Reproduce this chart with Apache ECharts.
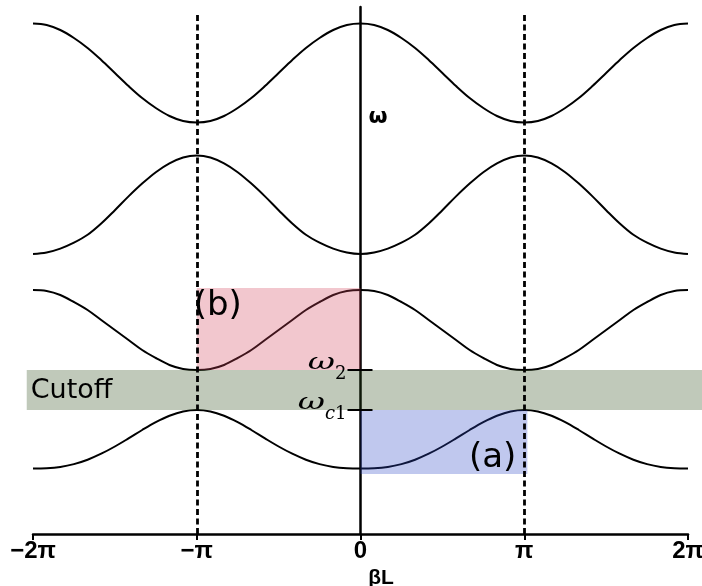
<!DOCTYPE html>
<html>
<head>
<meta charset="utf-8">
<script src="https://cdn.jsdelivr.net/npm/echarts@6/dist/echarts.min.js"></script>
<style>
  html, body { margin: 0; padding: 0; background: #fff; }
  #chart { width: 702px; height: 586px; }
</style>
</head>
<body>
<div id="chart"></div>
<script>
// Sample grid along βL, in steps of π/12 from −2π to 2π
const piTwelfths = [-24, -23, -22, -21, -20, -19, -18, -17, -16, -15, -14, -13, -12,
                    -11, -10, -9, -8, -7, -6, -5, -4, -3, -2, -1, 0,
                    1, 2, 3, 4, 5, 6, 7, 8, 9, 10, 11, 12,
                    13, 14, 15, 16, 17, 18, 19, 20, 21, 22, 23, 24];

// Dispersion bands ω(βL), lowest first
const band1 = [0.655, 0.658, 0.671, 0.699, 0.743, 0.803, 0.875, 0.956, 1.04, 1.118, 1.182, 1.225, 1.24,
               1.225, 1.182, 1.118, 1.04, 0.956, 0.875, 0.803, 0.743, 0.699, 0.671, 0.658, 0.655,
               0.658, 0.671, 0.699, 0.743, 0.803, 0.875, 0.956, 1.04, 1.118, 1.182, 1.225, 1.24,
               1.225, 1.182, 1.118, 1.04, 0.956, 0.875, 0.803, 0.743, 0.699, 0.671, 0.658, 0.655];
const band2 = [2.44, 2.43, 2.39, 2.32, 2.24, 2.14, 2.04, 1.94, 1.84, 1.76, 1.69, 1.65, 1.64,
               1.65, 1.69, 1.76, 1.84, 1.94, 2.04, 2.14, 2.24, 2.32, 2.39, 2.43, 2.44,
               2.43, 2.39, 2.32, 2.24, 2.14, 2.04, 1.94, 1.84, 1.76, 1.69, 1.65, 1.64,
               1.65, 1.69, 1.76, 1.84, 1.94, 2.04, 2.14, 2.24, 2.32, 2.39, 2.43, 2.44];
const band3 = [2.80, 2.815, 2.854, 2.913, 2.992, 3.105, 3.238, 3.376, 3.504, 3.618, 3.706, 3.765, 3.785,
               3.765, 3.706, 3.618, 3.504, 3.376, 3.238, 3.105, 2.992, 2.913, 2.854, 2.815, 2.80,
               2.815, 2.854, 2.913, 2.992, 3.105, 3.238, 3.376, 3.504, 3.618, 3.706, 3.765, 3.785,
               3.765, 3.706, 3.618, 3.504, 3.376, 3.238, 3.105, 2.992, 2.913, 2.854, 2.815, 2.80];
const band4 = [5.105, 5.09, 5.04, 4.96, 4.86, 4.74, 4.61, 4.48, 4.36, 4.26, 4.18, 4.13, 4.115,
               4.13, 4.18, 4.26, 4.36, 4.48, 4.61, 4.74, 4.86, 4.96, 5.04, 5.09, 5.105,
               5.09, 5.04, 4.96, 4.86, 4.74, 4.61, 4.48, 4.36, 4.26, 4.18, 4.13, 4.115,
               4.13, 4.18, 4.26, 4.36, 4.48, 4.61, 4.74, 4.86, 4.96, 5.04, 5.09, 5.105];

// Marked frequencies on the ω axis: value, subscript (italic part, upright part)
const omegaC1 = 1.24;
const omega2 = 1.64;
const omegaMarks = [omegaC1, omega2];
const omegaSubItalic = ['c', ''];
const omegaSubUpright = ['1', '2'];

// Shaded regions: [βL from, βL to, ω from, ω to, label]
const PI = Math.PI;
const regions = [
  [-2 * PI - 0.12, 2 * PI + 0.27, omegaC1, omega2, 'Cutoff'],
  [-PI, 0, omega2, 2.46, '(b)'],
  [0, PI + 0.06, 0.60, omegaC1, '(a)']
];
const regionColors = ['rgba(48,75,25,0.3)', 'rgba(212,68,92,0.3)', 'rgba(45,72,198,0.3)'];

// Brillouin zone boundaries (dashed)
const zoneBoundaries = [-PI, PI];
const boundaryTop = 5.19;

// Axis ticks
const xTickValues = [-2 * PI, -PI, 0, PI, 2 * PI];
const xTickLabels = ['\u22122\u03c0', '\u2212\u03c0', '0', '\u03c0', '2\u03c0'];

const betaL = piTwelfths.map(k => k * PI / 12);
const toPairs = arr => betaL.map((x, i) => [x, arr[i]]);

const chart = echarts.init(document.getElementById('chart'), null, { renderer: 'canvas' });

// Text measuring for the ω tick labels
const measureCtx = document.createElement('canvas').getContext('2d');
function textWidth(text, font) {
  measureCtx.font = font;
  return measureCtx.measureText(text).width;
}

const bandSeries = [band1, band2, band3, band4].map((b, i) => ({
  name: 'band' + (i + 1),
  type: 'line',
  data: toPairs(b),
  smooth: 0.35,
  showSymbol: false,
  lineStyle: { color: '#000', width: 2 },
  z: 2
}));

const boundarySeries = {
  name: 'boundaries',
  type: 'line',
  data: [],
  silent: true,
  z: 3,
  markLine: {
    silent: true,
    symbol: 'none',
    animation: false,
    label: { show: false },
    lineStyle: { type: [6, 3.5], width: 2.8, color: '#000' },
    data: zoneBoundaries.map(x => [{ coord: [x, 0] }, { coord: [x, boundaryTop] }])
  }
};

const labelFont = 'DejaVu Sans';

const regionSeries = {
  name: 'regions',
  type: 'custom',
  clip: false,
  silent: true,
  z: 4,
  data: regions.map((r, i) => [r[0], r[1], r[2], r[3], i]),
  renderItem: (params, api) => {
    const i = api.value(4);
    const p0 = api.coord([api.value(0), api.value(3)]);
    const p1 = api.coord([api.value(1), api.value(2)]);
    const x = p0[0], y = p0[1], w = p1[0] - p0[0], h = p1[1] - p0[1];
    const text = regions[i][4];
    let t;
    if (i === 0) {
      t = { x: x + 4, y: y + h / 2 + 1, align: 'left', va: 'middle', size: 27 };
    } else if (i === 1) {
      t = { x: x - 3, y: y + 1, align: 'left', va: 'top', size: 34 };
    } else {
      t = { x: x + w - 11, y: y + h + 1, align: 'right', va: 'bottom', size: 34 };
    }
    return {
      type: 'group',
      children: [
        { type: 'rect', shape: { x, y, width: w, height: h }, style: { fill: regionColors[i] } },
        {
          type: 'text',
          x: t.x, y: t.y,
          style: {
            text, fill: '#000', font: t.size + 'px "' + labelFont + '"',
            align: t.align, verticalAlign: t.va
          }
        }
      ]
    };
  }
};

const serifItalic = 'italic 18px "DejaVu Serif"';
const serifUpright = '18px "DejaVu Serif"';
const omegaFont = 'italic 23px "DejaVu Serif"';

const omegaTickSeries = {
  name: 'omegaTicks',
  type: 'custom',
  clip: false,
  silent: true,
  z: 5,
  data: omegaMarks.map((v, i) => [0, v, i]),
  renderItem: (params, api) => {
    const p = api.coord([api.value(0), api.value(1)]);
    const i = api.value(2);
    const right = p[0] - 14;
    const upW = textWidth(omegaSubUpright[i], serifUpright);
    const itW = textWidth(omegaSubItalic[i], serifItalic);
    const subBottom = p[1] + 13;
    const omegaRight = right - upW - itW;
    return {
      type: 'group',
      children: [
        { type: 'line', shape: { x1: p[0] - 13, y1: p[1], x2: p[0] + 12, y2: p[1] },
          style: { stroke: '#000', lineWidth: 2 } },
        { type: 'text', x: right, y: subBottom,
          style: { text: omegaSubUpright[i], font: serifUpright, fill: '#000', align: 'right', verticalAlign: 'bottom' } },
        { type: 'text', x: right - upW, y: subBottom,
          style: { text: omegaSubItalic[i], font: serifItalic, fill: '#000', align: 'right', verticalAlign: 'bottom' } },
        { type: 'text', x: omegaRight, y: p[1] + 5, scaleX: 1.45, originX: 0, originY: 0,
          style: { text: '\u03c9', font: omegaFont, fill: '#000', align: 'right', verticalAlign: 'bottom' } }
      ]
    };
  }
};

chart.setOption({
  animation: false,
  backgroundColor: '#fff',
  grid: { left: 33, right: 14, top: 7, bottom: 52, containLabel: false, outerBoundsMode: 'none' },
  xAxis: {
    type: 'value',
    min: -2 * PI,
    max: 2 * PI,
    interval: PI,
    name: '\u03b2L',
    nameLocation: 'middle',
    nameGap: 31,
    nameTextStyle: {
      color: '#000', fontSize: 21, fontWeight: 'bold',
      fontFamily: 'Liberation Sans, Arial',
      padding: [0, 0, 0, 41]
    },
    axisLine: { onZero: false, lineStyle: { color: '#000', width: 2.5 } },
    axisTick: { show: true, length: 6, lineStyle: { color: '#000', width: 2 } },
    axisLabel: {
      color: '#000', fontSize: 24, fontWeight: 'bold', margin: 5,
      fontFamily: 'Liberation Sans, Arial',
      formatter: v => {
        const i = xTickValues.findIndex(t => Math.abs(t - v) < 1e-6);
        return i >= 0 ? xTickLabels[i] : '';
      }
    },
    splitLine: { show: false }
  },
  yAxis: {
    type: 'value',
    min: 0,
    max: 5.27,
    name: '\u03c9',
    nameLocation: 'end',
    nameGap: -121,
    nameTextStyle: {
      color: '#000', fontSize: 22, fontWeight: 'bold', fontFamily: 'DejaVu Sans',
      align: 'left', padding: [0, 0, 0, 8]
    },
    axisLine: { show: true, onZero: true, lineStyle: { color: '#000', width: 2.5 } },
    axisTick: { show: false },
    axisLabel: { show: false },
    splitLine: { show: false }
  },
  series: bandSeries.concat([boundarySeries, regionSeries, omegaTickSeries])
});
</script>
</body>
</html>
